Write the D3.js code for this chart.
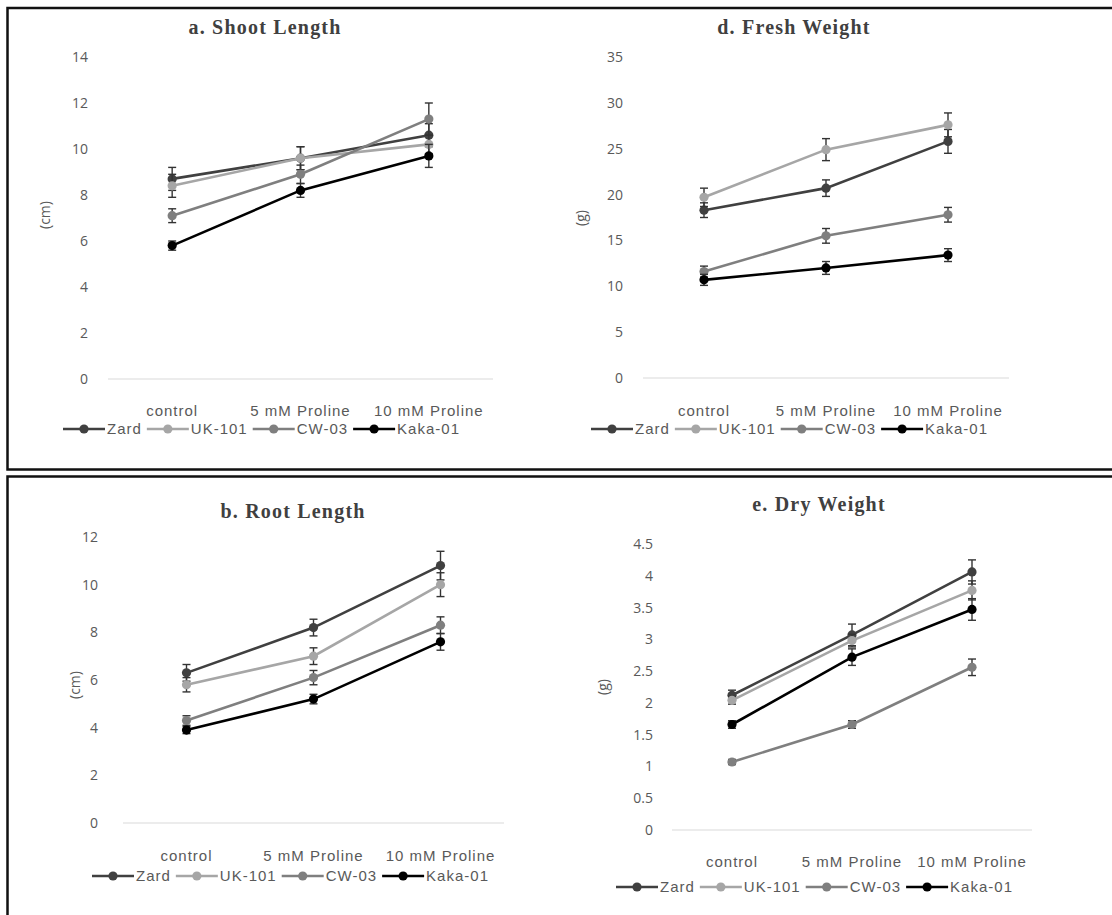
<!DOCTYPE html>
<html>
<head>
  <meta charset="utf-8">
  <script src="https://cdn.jsdelivr.net/npm/d3@7"></script>
  <style>
    body { margin: 0; background: #fff; }
  </style>
</head>
<body>
<script>
// data: rows = Zard, UK-101, CW-03, Kaka-01 ; cols = treatments
var categories = ["control", "5 mM Proline", "10 mM Proline"];
var varieties = ["Zard", "UK-101", "CW-03", "Kaka-01"];
var colors = ["#404040", "#a6a6a6", "#7f7f7f", "#000000"];

var shootMean = [[8.7, 9.6, 10.6], [8.4, 9.6, 10.2], [7.1, 8.9, 11.3], [5.8, 8.2, 9.7]];
var shootErr  = [[0.5, 0.5, 0.5], [0.5, 0.5, 0.4], [0.3, 0.4, 0.7], [0.2, 0.3, 0.5]];
var shootTicks = [0, 2, 4, 6, 8, 10, 12, 14];

var freshMean = [[18.3, 20.7, 25.8], [19.7, 24.9, 27.6], [11.6, 15.5, 17.8], [10.7, 12.0, 13.4]];
var freshErr  = [[0.8, 0.9, 1.3], [1.0, 1.2, 1.3], [0.6, 0.8, 0.8], [0.6, 0.7, 0.7]];
var freshTicks = [0, 5, 10, 15, 20, 25, 30, 35];

var rootMean = [[6.3, 8.2, 10.8], [5.8, 7.0, 10.0], [4.3, 6.1, 8.3], [3.9, 5.2, 7.6]];
var rootErr  = [[0.35, 0.35, 0.6], [0.3, 0.35, 0.5], [0.2, 0.3, 0.35], [0.15, 0.2, 0.35]];
var rootTicks = [0, 2, 4, 6, 8, 10, 12];

var dryMean = [[2.12, 3.07, 4.06], [2.04, 2.98, 3.77], [1.07, 1.66, 2.56], [1.66, 2.72, 3.47]];
var dryErr  = [[0.08, 0.17, 0.19], [0.06, 0.1, 0.15], [0.04, 0.06, 0.13], [0.06, 0.13, 0.17]];
var dryTicks = [0, 0.5, 1, 1.5, 2, 2.5, 3, 3.5, 4, 4.5];

var svg = d3.select("body").append("svg")
  .attr("width", 1112)
  .attr("height", 915);

// boxes around the two rows
svg.append("path")
  .attr("d", "M1120,8H7.5V469.5H1120")
  .attr("fill", "none").attr("stroke", "#111").attr("stroke-width", 2.5);
svg.append("path")
  .attr("d", "M1120,476.5H7.5V930")
  .attr("fill", "none").attr("stroke", "#111").attr("stroke-width", 2.5);

var labelFont = "'Liberation Sans', Arial, sans-serif";

var panels = [
  {title: "a. Shoot Length", unit: "(cm)", mean: shootMean, err: shootErr, ticks: shootTicks,
   left: 108, right: 493, zeroY: 379, topY: 57, pad: 20, titleX: 265, titleY: 34,
   catY: 405, legX: 63, legY: 429, unitX: 45, unitY: 215, fmt: d3.format("d")},
  {title: "d. Fresh Weight", unit: "(g)", mean: freshMean, err: freshErr, ticks: freshTicks,
   left: 643, right: 1009, zeroY: 378, topY: 57, pad: 20, titleX: 794, titleY: 34,
   catY: 405, legX: 591, legY: 429, unitX: 581, unitY: 218, fmt: d3.format("d")},
  {title: "b. Root Length", unit: "(cm)", mean: rootMean, err: rootErr, ticks: rootTicks,
   left: 123, right: 504, zeroY: 823, topY: 537, pad: 25, titleX: 293, titleY: 518,
   catY: 850, legX: 92, legY: 876, unitX: 75, unitY: 685, fmt: d3.format("d")},
  {title: "e. Dry Weight", unit: "(g)", mean: dryMean, err: dryErr, ticks: dryTicks,
   left: 672, right: 1032, zeroY: 830, topY: 544, pad: 19, titleX: 819, titleY: 511,
   catY: 856, legX: 616, legY: 887, unitX: 603, unitY: 687, fmt: function(v) { return String(v); }}
];

panels.forEach(function(p) {
  var g = svg.append("g");
  var maxT = p.ticks[p.ticks.length - 1];

  var y = d3.scaleLinear().domain([0, maxT]).range([p.zeroY, p.topY]);
  var x = d3.scaleBand().domain(categories).range([p.left, p.right]);

  g.append("text")
    .attr("x", p.titleX).attr("y", p.titleY)
    .attr("text-anchor", "middle")
    .style("font-family", "'Liberation Serif', 'DejaVu Serif', serif")
    .style("font-weight", "bold")
    .style("font-size", "20px")
    .style("letter-spacing", "1.2px")
    .style("fill", "#404040")
    .text(p.title);

  // zero line
  g.append("line")
    .attr("x1", p.left).attr("x2", p.right)
    .attr("y1", y(0)).attr("y2", y(0))
    .attr("stroke", "#d9d9d9").attr("stroke-width", 1);

  var yAxis = g.append("g")
    .attr("transform", "translate(" + p.left + ",0)")
    .call(d3.axisLeft(y).tickValues(p.ticks).tickSize(0).tickPadding(p.pad).tickFormat(p.fmt));
  yAxis.select(".domain").remove();
  yAxis.selectAll("text")
    .style("font-family", "'Open Sans', sans-serif")
    .style("font-size", "14px")
    .style("fill", "#595959");

  var xAxis = g.append("g")
    .attr("transform", "translate(0," + p.catY + ")")
    .call(d3.axisBottom(x).tickSize(0).tickPadding(0));
  xAxis.select(".domain").remove();
  xAxis.selectAll("text")
    .style("font-family", labelFont)
    .style("font-size", "15px")
    .style("letter-spacing", "1px")
    .style("fill", "#595959");

  g.append("text")
    .attr("transform", "translate(" + p.unitX + "," + p.unitY + ") rotate(-90)")
    .attr("text-anchor", "middle")
    .attr("dy", "0.35em")
    .style("font-family", "'Open Sans', sans-serif")
    .style("font-size", "14px")
    .style("fill", "#595959")
    .text(p.unit);

  var line = d3.line()
    .x(function(d, i) { return x(categories[i]) + x.bandwidth() / 2; })
    .y(function(d) { return y(d); });

  varieties.forEach(function(v, s) {
    var sg = g.append("g");
    sg.append("path")
      .datum(p.mean[s])
      .attr("d", line)
      .attr("fill", "none")
      .attr("stroke", colors[s])
      .attr("stroke-width", 2.6);

    var bars = sg.selectAll("g.err")
      .data(p.mean[s])
      .enter().append("g")
      .attr("class", "err")
      .attr("transform", function(d, i) {
        return "translate(" + (x(categories[i]) + x.bandwidth() / 2) + ",0)";
      });
    bars.append("line")
      .attr("y1", function(d, i) { return y(d - p.err[s][i]); })
      .attr("y2", function(d, i) { return y(d + p.err[s][i]); })
      .attr("stroke", "#333").attr("stroke-width", 1.4);
    bars.append("line")
      .attr("x1", -4).attr("x2", 4)
      .attr("y1", function(d, i) { return y(d + p.err[s][i]); })
      .attr("y2", function(d, i) { return y(d + p.err[s][i]); })
      .attr("stroke", "#333").attr("stroke-width", 1.4);
    bars.append("line")
      .attr("x1", -4).attr("x2", 4)
      .attr("y1", function(d, i) { return y(d - p.err[s][i]); })
      .attr("y2", function(d, i) { return y(d - p.err[s][i]); })
      .attr("stroke", "#333").attr("stroke-width", 1.4);

    sg.selectAll("circle")
      .data(p.mean[s])
      .enter().append("circle")
      .attr("cx", function(d, i) { return x(categories[i]) + x.bandwidth() / 2; })
      .attr("cy", function(d) { return y(d); })
      .attr("r", 4.6)
      .attr("fill", colors[s]);
  });

  // legend
  var lx = p.legX;
  varieties.forEach(function(v, s) {
    var lg = g.append("g").attr("transform", "translate(" + lx + "," + p.legY + ")");
    lg.append("line")
      .attr("x1", 0).attr("x2", 42)
      .attr("stroke", colors[s]).attr("stroke-width", 2.6);
    lg.append("circle")
      .attr("cx", 21).attr("r", 4.6)
      .attr("fill", colors[s]);
    var t = lg.append("text")
      .attr("x", 44).attr("dy", "0.35em")
      .style("font-family", labelFont)
      .style("font-size", "15px")
      .style("letter-spacing", "1px")
      .style("fill", "#595959")
      .text(v);
    lx += 44 + t.node().getComputedTextLength() + 5;
  });
});
</script>
</body>
</html>
